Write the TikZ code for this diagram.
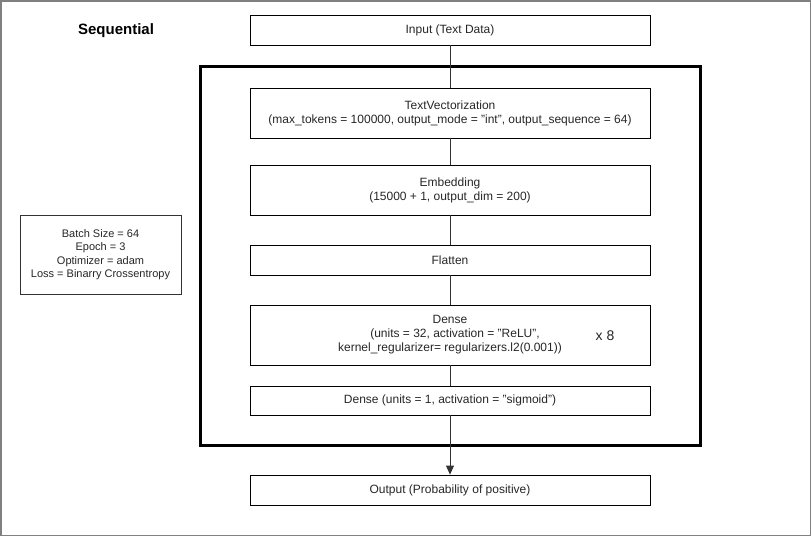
\documentclass[tikz,border=0pt]{standalone}
\usepackage{fontspec}
\setmainfont{Liberation Sans}
\usetikzlibrary{arrows.meta}
\begin{document}
\begin{tikzpicture}[x=1pt,y=-1pt,
  layer/.style={draw=black,line width=0.8pt,minimum width=400pt,inner sep=0pt,align=center,font=\fontsize{12}{14}\selectfont,text=black!85},
  conn/.style={draw=black!80,line width=0.8pt},
  every node/.style={anchor=center}]
\useasboundingbox (0,0) rectangle (811,536);
\draw[draw=black!50,line width=1.5pt] (0.75,0.75) rectangle (810.25,535.25);
\node[font=\fontsize{15}{17}\selectfont\bfseries] (title) at (116,31) {Sequential};
\node[draw=black,line width=3pt,minimum width=500pt,minimum height=379pt] (seq) at (450,255.5) {};
\node[layer,minimum height=30pt] (in) at (450,30) {Input (Text Data)};
\node[layer,minimum height=50pt] (tv) at (450,113) {TextVectorization\\(max\_tokens = 100000, output\_mode = "int", output\_sequence = 64)};
\node[layer,minimum height=50pt] (emb) at (450,190) {Embedding\\(15000 + 1, output\_dim = 200)};
\node[layer,minimum height=30pt] (fl) at (450,260) {Flatten};
\node[layer,minimum height=60pt] (d1) at (450,335) {Dense\\\ \ \ (units = 32, activation = "ReLU",\\kernel\_regularizer= regularizers.l2(0.001))};
\node[font=\fontsize{14}{16}\selectfont,text=black!85] (x8) at (605,336) {x 8};
\node[layer,minimum height=29pt] (d2) at (450,400.5) {Dense (units = 1, activation = "sigmoid")};
\node[layer,minimum height=30pt] (out) at (450,490) {Output (Probability of positive)};
\node[draw=black!80,line width=0.8pt,minimum width=161pt,minimum height=79pt,align=center,font=\fontsize{11}{13.5}\selectfont,text=black!85] (par) at (100.5,254.5) {Batch Size = 64\\Epoch = 3\\Optimizer = adam\\Loss = Binarry Crossentropy};
\draw[conn] (in) -- (tv);
\draw[conn] (tv) -- (emb);
\draw[conn] (emb) -- (fl);
\draw[conn] (fl) -- (d1);
\draw[conn] (d1) -- (d2);
\draw[conn,-{Triangle[length=9pt,width=8pt]}] (d2) -- (out);
\end{tikzpicture}
\end{document}
